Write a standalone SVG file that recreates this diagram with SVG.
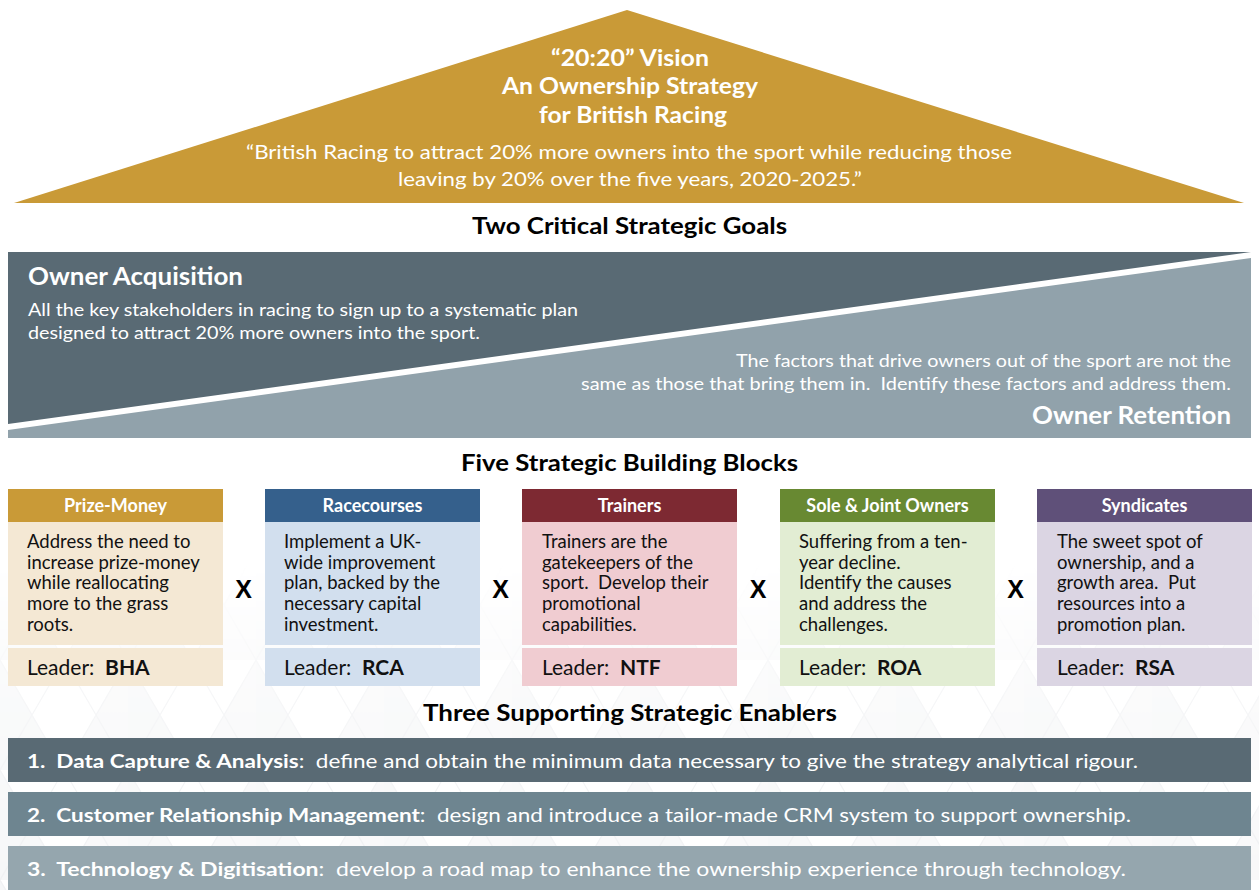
<svg xmlns="http://www.w3.org/2000/svg" width="1259" height="890" viewBox="0 0 1259 890">
  <style>
    text { font-family: Lato, "Liberation Sans", "DejaVu Sans", sans-serif; white-space: pre; }
    .b { font-weight: bold; }
    .title { font-size: 22px; font-weight: bold; fill: #ffffff; }
    .quote { font-size: 20px; fill: #ffffff; }
    .section { font-size: 22px; font-weight: bold; fill: #000000; }
    .goalHead { font-size: 24px; font-weight: bold; fill: #ffffff; }
    .goalText { font-size: 18px; fill: #ffffff; }
    .blkHead { font-size: 18px; font-weight: bold; fill: #ffffff; }
    .blkText { font-size: 18.5px; fill: #111111; }
    .leader { font-size: 21px; fill: #111111; }
    .times { font-family: "Liberation Sans", Arial, sans-serif; font-size: 25px; font-weight: bold; fill: #000000; }
    .bar { font-size: 19.5px; fill: #ffffff; }
  </style>
  <defs>
    <pattern id="diamonds" x="0" y="0" width="128" height="110" patternUnits="userSpaceOnUse">
      <polygon points="0,0 64,110 0,110" fill="#f6f7f8"/>
      <polygon points="128,0 64,110 128,110" fill="#f8f8f9"/>
      <path d="M0,0 L64,110 L128,0 M0,110 L64,0 L128,110" fill="none" stroke="#f0f1f3" stroke-width="1.2"/>
    </pattern>
    <linearGradient id="fadeGrad" x1="0" y1="0" x2="0" y2="1">
      <stop offset="0" stop-color="#ffffff" stop-opacity="0"/>
      <stop offset="0.4" stop-color="#ffffff" stop-opacity="0.6"/>
      <stop offset="1" stop-color="#ffffff" stop-opacity="1"/>
    </linearGradient>
    <mask id="fadeMask">
      <rect x="0" y="560" width="1259" height="330" fill="url(#fadeGrad)"/>
    </mask>
  </defs>

  <!-- page background with faint lattice toward the bottom -->
  <rect x="0" y="0" width="1259" height="890" fill="#ffffff"/>
  <rect x="0" y="560" width="1259" height="330" fill="url(#diamonds)" mask="url(#fadeMask)"/>

  <!-- vision roof -->
  <g id="vision">
    <polygon points="627,10 1244,203 14,203" fill="#C99A37"/>
    <text class="title" x="630" y="66" text-anchor="middle" textLength="158" lengthAdjust="spacingAndGlyphs">“20:20” Vision</text>
    <text class="title" x="630" y="94" text-anchor="middle" textLength="256" lengthAdjust="spacingAndGlyphs">An Ownership Strategy</text>
    <text class="title" x="633" y="123" text-anchor="middle" textLength="188" lengthAdjust="spacingAndGlyphs">for British Racing</text>
    <text class="quote" x="246" y="159" textLength="766" lengthAdjust="spacingAndGlyphs">“British Racing to attract 20% more owners into the sport while reducing those</text>
    <text class="quote" x="398" y="186" textLength="464" lengthAdjust="spacingAndGlyphs">leaving by 20% over the five years, 2020-2025.”</text>
  </g>

  <text class="section" x="472" y="234" textLength="315" lengthAdjust="spacingAndGlyphs">Two Critical Strategic Goals</text>

  <!-- strategic goals band -->
  <g id="goal-acquisition">
    <polygon points="8,252 1251,252 8,424" fill="#596A74"/>
    <text class="goalHead" x="28" y="285" textLength="215" lengthAdjust="spacingAndGlyphs">Owner Acquisition</text>
    <text class="goalText" x="28" y="316" textLength="550" lengthAdjust="spacingAndGlyphs">All the key stakeholders in racing to sign up to a systematic plan</text>
    <text class="goalText" x="28" y="339" textLength="452" lengthAdjust="spacingAndGlyphs">designed to attract 20% more owners into the sport.</text>
  </g>
  <g id="goal-retention">
    <polygon points="1251,258 1251,438 8,438 8,430" fill="#91A2AB"/>
    <text class="goalText" x="1231" y="367" text-anchor="end" textLength="495" lengthAdjust="spacingAndGlyphs">The factors that drive owners out of the sport are not the</text>
    <text class="goalText" x="1231" y="390" text-anchor="end" textLength="650" lengthAdjust="spacingAndGlyphs">same as those that bring them in.  Identify these factors and address them.</text>
    <text class="goalHead" x="1231" y="424" text-anchor="end" textLength="199" lengthAdjust="spacingAndGlyphs">Owner Retention</text>
  </g>

  <text class="section" x="461" y="471" textLength="337" lengthAdjust="spacingAndGlyphs">Five Strategic Building Blocks</text>

  <!-- building blocks -->
  <g id="block-prize-money">
    <rect x="8" y="489" width="215" height="33" fill="#C99A37"/>
    <rect x="8" y="522" width="215" height="123" fill="#F4E8D4"/>
    <rect x="8" y="648" width="215" height="38" fill="#F4E8D4"/>
    <text class="blkHead" x="115.5" y="512" text-anchor="middle">Prize-Money</text>
    <text class="blkText" x="27" y="548">Address the need to</text>
    <text class="blkText" x="27" y="569">increase prize-money</text>
    <text class="blkText" x="27" y="589">while reallocating</text>
    <text class="blkText" x="27" y="610">more to the grass</text>
    <text class="blkText" x="27" y="631">roots.</text>
    <text class="leader" x="27" y="675">Leader:  <tspan class="b">BHA</tspan></text>
  </g>
  <g id="block-racecourses">
    <rect x="265" y="489" width="215" height="33" fill="#35608C"/>
    <rect x="265" y="522" width="215" height="123" fill="#D2DFEE"/>
    <rect x="265" y="648" width="215" height="38" fill="#D2DFEE"/>
    <text class="blkHead" x="372.5" y="512" text-anchor="middle">Racecourses</text>
    <text class="blkText" x="284" y="548">Implement a UK-</text>
    <text class="blkText" x="284" y="569">wide improvement</text>
    <text class="blkText" x="284" y="589">plan, backed by the</text>
    <text class="blkText" x="284" y="610">necessary capital</text>
    <text class="blkText" x="284" y="631">investment.</text>
    <text class="leader" x="284" y="675">Leader:  <tspan class="b">RCA</tspan></text>
  </g>
  <g id="block-trainers">
    <rect x="522" y="489" width="215" height="33" fill="#7D2932"/>
    <rect x="522" y="522" width="215" height="123" fill="#F0CCD1"/>
    <rect x="522" y="648" width="215" height="38" fill="#F0CCD1"/>
    <text class="blkHead" x="629.5" y="512" text-anchor="middle">Trainers</text>
    <text class="blkText" x="542" y="548">Trainers are the</text>
    <text class="blkText" x="542" y="569">gatekeepers of the</text>
    <text class="blkText" x="542" y="589">sport.  Develop their</text>
    <text class="blkText" x="542" y="610">promotional</text>
    <text class="blkText" x="542" y="631">capabilities.</text>
    <text class="leader" x="542" y="675">Leader:  <tspan class="b">NTF</tspan></text>
  </g>
  <g id="block-sole-joint-owners">
    <rect x="780" y="489" width="215" height="33" fill="#688932"/>
    <rect x="780" y="522" width="215" height="123" fill="#E2EDD3"/>
    <rect x="780" y="648" width="215" height="38" fill="#E2EDD3"/>
    <text class="blkHead" x="887.5" y="512" text-anchor="middle">Sole &amp; Joint Owners</text>
    <text class="blkText" x="799" y="548">Suffering from a ten-</text>
    <text class="blkText" x="799" y="569">year decline.</text>
    <text class="blkText" x="799" y="589">Identify the causes</text>
    <text class="blkText" x="799" y="610">and address the</text>
    <text class="blkText" x="799" y="631">challenges.</text>
    <text class="leader" x="799" y="675">Leader:  <tspan class="b">ROA</tspan></text>
  </g>
  <g id="block-syndicates">
    <rect x="1037" y="489" width="215" height="33" fill="#5F5079"/>
    <rect x="1037" y="522" width="215" height="123" fill="#DBD5E3"/>
    <rect x="1037" y="648" width="215" height="38" fill="#DBD5E3"/>
    <text class="blkHead" x="1144.5" y="512" text-anchor="middle">Syndicates</text>
    <text class="blkText" x="1057" y="548">The sweet spot of</text>
    <text class="blkText" x="1057" y="569">ownership, and a</text>
    <text class="blkText" x="1057" y="589">growth area.  Put</text>
    <text class="blkText" x="1057" y="610">resources into a</text>
    <text class="blkText" x="1057" y="631">promotion plan.</text>
    <text class="leader" x="1057" y="675">Leader:  <tspan class="b">RSA</tspan></text>
  </g>

  <!-- multiplication signs between blocks -->
  <g id="connectors">
    <text class="times" x="243.5" y="598" text-anchor="middle">X</text>
    <text class="times" x="500.5" y="598" text-anchor="middle">X</text>
    <text class="times" x="758" y="598" text-anchor="middle">X</text>
    <text class="times" x="1015.5" y="598" text-anchor="middle">X</text>
  </g>

  <text class="section" x="423" y="721" textLength="414" lengthAdjust="spacingAndGlyphs">Three Supporting Strategic Enablers</text>

  <!-- enabler bars -->
  <g id="enabler-data">
    <rect x="8" y="738" width="1243" height="44" fill="#596A74"/>
    <text class="bar" x="27" y="768" textLength="1111" lengthAdjust="spacingAndGlyphs"><tspan class="b">1.  Data Capture &amp; Analysis</tspan>:  define and obtain the minimum data necessary to give the strategy analytical rigour.</text>
  </g>
  <g id="enabler-crm">
    <rect x="8" y="792" width="1243" height="44" fill="#6E8590"/>
    <text class="bar" x="27" y="822" textLength="1104" lengthAdjust="spacingAndGlyphs"><tspan class="b">2.  Customer Relationship Management</tspan>:  design and introduce a tailor-made CRM system to support ownership.</text>
  </g>
  <g id="enabler-technology">
    <rect x="8" y="846" width="1243" height="44" fill="#95A6AE"/>
    <text class="bar" x="27" y="876" textLength="1099" lengthAdjust="spacingAndGlyphs"><tspan class="b">3.  Technology &amp; Digitisation</tspan>:  develop a road map to enhance the ownership experience through technology.</text>
  </g>
</svg>
